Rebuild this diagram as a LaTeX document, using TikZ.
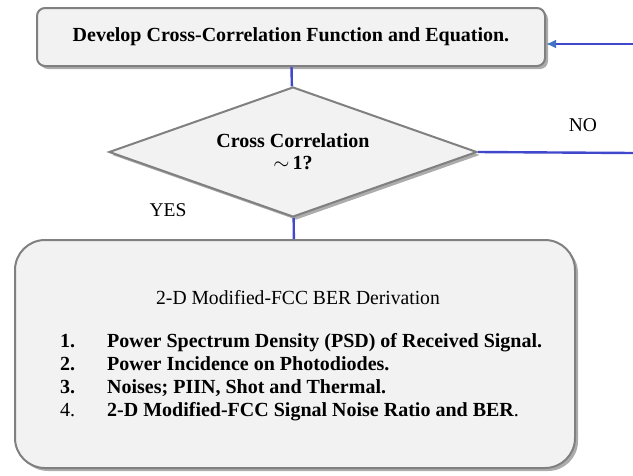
\documentclass[tikz,border=0pt]{standalone}
\usepackage{fontspec}
\setmainfont{Liberation Serif}
\newfontfamily\titlefont[FakeStretch=0.98]{Liberation Serif}
\usetikzlibrary{shapes.geometric,shadows,arrows.meta}

\definecolor{linkblue}{RGB}{64,72,204}
\definecolor{tipblue}{RGB}{68,114,196}

\tikzset{
  box/.style={draw=gray,line width=2pt,fill=gray!10,
    drop shadow={shadow xshift=3pt,shadow yshift=-3pt,fill=gray!65,opacity=1}},
  link/.style={draw=linkblue,line width=2.4pt},
  lbl/.style={font=\fontsize{19.5}{22}\selectfont}
}

\begin{document}
\begin{tikzpicture}[x=1pt,y=-1pt]
        \useasboundingbox (0,0) rectangle (633,475);

        \begin{scope}[every node/.style={box}]
          \node[rounded corners=8pt,minimum width=508pt,minimum height=58pt,
                font=\fontsize{20}{24}\selectfont\bfseries] (1) at (291,37)
                {Develop Cross-Correlation Function and Equation.};
          \node[diamond,aspect=2.8,minimum width=368pt,minimum height=130pt,
                inner sep=0pt,align=center,
                font=\fontsize{20}{22}\selectfont\bfseries] (2) at (293,152)
                {Cross Correlation\\$\sim$\,1?};
          \node[rounded corners=30pt,minimum width=560pt,minimum height=228pt] (3) at (295,354) {};
        \end{scope}

        % text inside the big box
        \node[font=\titlefont\fontsize{20}{24}\selectfont] (3t) at (298,298)
          {2-D Modified-FCC BER Derivation};
        \node[anchor=north west,inner sep=0pt,font=\fontsize{20}{23}\selectfont] (3l) at (60,331)
          {\begin{tabular}{@{}l@{\hspace{32pt}}l@{}}
            \textbf{1.} & \textbf{Power Spectrum Density (PSD) of Received Signal.}\\
            \textbf{2.} & \textbf{Power Incidence on Photodiodes.}\\
            \textbf{3.} & \textbf{Noises; PIIN, Shot and Thermal.}\\
            4.          & \textbf{2-D Modified-FCC Signal Noise Ratio and BER}.
          \end{tabular}};

        \coordinate (noend) at (633,153);
        \coordinate (back) at (633,44);

        \draw[link] (1) -- (2);
        \draw[link] (2) -- (3);
        \draw[link] (2.east) -- (noend);
        \draw[link,-{Latex[length=10pt,width=9pt,color=tipblue]}] (back) -- (back -| 1.east);

        \node[lbl] (no)  at (583,125) {NO};
        \node[lbl] (yes) at (168,210) {YES};

      \end{tikzpicture}
\end{document}
